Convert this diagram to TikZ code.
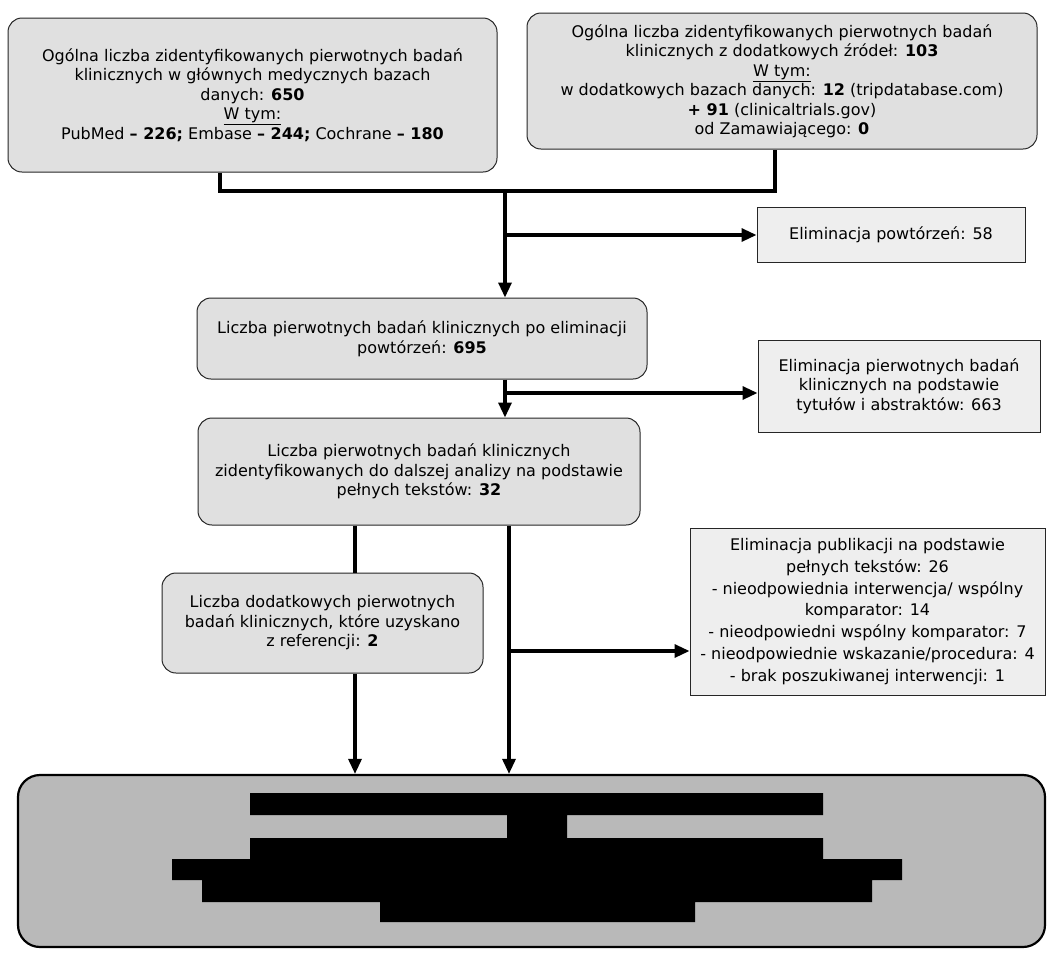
\documentclass[tikz,border=0pt]{standalone}
\usepackage{fontspec}
\setmainfont{DejaVu Sans}
\usetikzlibrary{arrows.meta}
\begin{document}
\begin{tikzpicture}[x=1pt,y=-1pt,
  txt/.style={font=\fontsize{16}{19.5}\selectfont, align=center, inner sep=0pt},
  rbox/.style={txt, draw=black!85, line width=1pt, fill=gray!24, rounded corners=14pt},
  sbox/.style={txt, draw=black!85, line width=1pt, fill=gray!13},
  bigbox/.style={draw=black, line width=2.2pt, fill=gray!55, rounded corners=22pt},
  conn/.style={draw, line width=3.2pt},
  arr/.style={conn, -{Triangle[length=15pt,width=13pt]}},
]
\useasboundingbox (0,0) rectangle (1047,954);

\node[rbox, minimum width=489pt, minimum height=154pt] (b1) at (252.5,95)
 {Ogólna liczba zidentyfikowanych pierwotnych badań\\
  klinicznych w głównych medycznych bazach\\
  danych: \textbf{650}\\
  \underline{W tym:}\\
  PubMed \textbf{– 226;} Embase \textbf{– 244;} Cochrane \textbf{– 180}};

\node[rbox, minimum width=510pt, minimum height=136pt] (b2) at (782,81)
 {Ogólna liczba zidentyfikowanych pierwotnych badań\\
  klinicznych z dodatkowych źródeł: \textbf{103}\\
  \underline{W tym:}\\
  w dodatkowych bazach danych: \textbf{12} (tripdatabase.com)\\
  \textbf{+ 91} (clinicaltrials.gov)\\
  od Zamawiającego: \textbf{0}};

\node[rbox, minimum width=450pt, minimum height=81pt] (b3) at (422,338.5)
 {Liczba pierwotnych badań klinicznych po eliminacji\\
  powtórzeń: \textbf{695}};

\node[sbox, minimum width=268pt, minimum height=55pt] (e1) at (891,234.5)
 {Eliminacja powtórzeń: 58};

\node[sbox, minimum width=282pt, minimum height=92pt] (e2) at (899,386)
 {Eliminacja pierwotnych badań\\
  klinicznych na podstawie\\
  tytułów i abstraktów: 663};

\node[rbox, minimum width=442pt, minimum height=107pt] (b4) at (419,471.5)
 {Liczba pierwotnych badań klinicznych\\
  zidentyfikowanych do dalszej analizy na podstawie\\
  pełnych tekstów: \textbf{32}};

\node[rbox, minimum width=321pt, minimum height=100pt] (b5) at (322.5,623)
 {Liczba dodatkowych pierwotnych\\
  badań klinicznych, które uzyskano\\
  z referencji: \textbf{2}};

\node[sbox, minimum width=355pt, minimum height=167pt,
      font=\fontsize{16}{21.7}\selectfont] (e3) at (867.5,611.5)
 {Eliminacja publikacji na podstawie\\
  pełnych tekstów: 26\\
  - nieodpowiednia interwencja/ wspólny\\
  komparator: 14\\
  - nieodpowiedni wspólny komparator: 7\\
  - nieodpowiednie wskazanie/procedura: 4\\
  - brak poszukiwanej interwencji: 1};

\node[bigbox, minimum width=1027pt, minimum height=172pt] (bb) at (531.5,861) {};

% redaction
\fill[black] (250,793) -- (823,793) -- (823,815) -- (567,815) -- (567,838)
  -- (823,838) -- (823,859) -- (902,859) -- (902,880) -- (872,880)
  -- (872,902) -- (695,902) -- (695,922) -- (380,922) -- (380,902)
  -- (202,902) -- (202,880) -- (172,880) -- (172,859) -- (250,859)
  -- (250,838) -- (507,838) -- (507,815) -- (250,815) -- cycle;

% connectors
\coordinate (hl) at (220,191);
\coordinate (hr) at (775,191);
\coordinate (j1) at (505,191);
\coordinate (k1) at (505,235);
\coordinate (k2) at (505,393);
\coordinate (v1) at (355,0);
\coordinate (v2) at (509,0);
\coordinate (k3) at (509,651);

\draw[conn, line join=miter] (b1.south -| hl) -- (hl) -- (hr) -- (b2.south -| hr);
\draw[arr] (j1) -- (j1 |- b3.north);
\draw[arr] (k1) -- (k1 -| e1.west);
\draw[arr] (b3.south -| j1) -- (j1 |- b4.north);
\draw[arr] (k2) -- (k2 -| e2.west);
\draw[conn] (b4.south -| v1) -- (b5.north -| v1);
\draw[arr] (b5.south -| v1) -- (bb.north -| v1);
\draw[arr] (b4.south -| v2) -- (bb.north -| v2);
\draw[arr] (k3) -- (k3 -| e3.west);
\end{tikzpicture}
\end{document}
